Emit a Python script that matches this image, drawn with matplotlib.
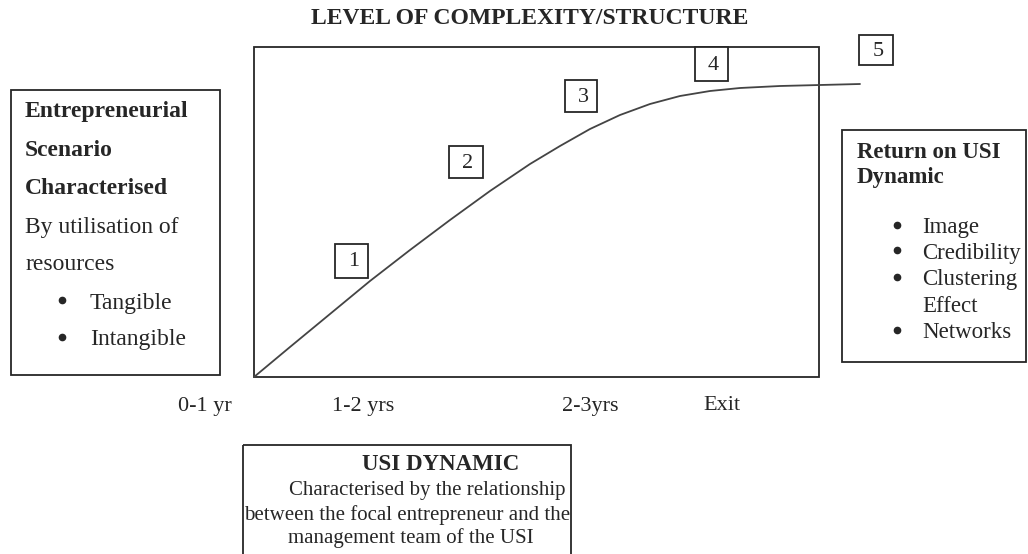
import matplotlib
matplotlib.use('Agg')
import matplotlib.pyplot as plt
from matplotlib.patches import Rectangle

plt.rcParams['font.family'] = ['Liberation Serif', 'DejaVu Serif']

# curve of complexity over time (image pixel units)
curve_x = [254, 290, 330, 370, 410, 450, 490, 530, 560, 590, 620, 650, 680, 710, 740, 780, 820, 860]
curve_y = [377, 347, 314, 281, 250, 220, 191, 164, 146, 129, 115, 104, 96, 91, 88, 86, 85, 84]

stage_labels = ['1', '2', '3', '4', '5']
stage_boxes = [(335, 244, 33, 34), (449, 146, 34, 32), (565, 80, 32, 32),
               (695, 47, 33, 34), (859, 35, 34, 30)]

time_labels = ['0-1 yr', '1-2 yrs', '2-3yrs', 'Exit']
time_pos = [205, 363, 590, 722]

title = 'LEVEL OF COMPLEXITY/STRUCTURE'

left_head = ['Entrepreneurial', 'Scenario', 'Characterised']
left_body = ['By utilisation of', 'resources']
left_bullets = ['Tangible', 'Intangible']

right_head = ['Return on USI', 'Dynamic']
right_bullets = ['Image', 'Credibility', 'Clustering', 'Networks']
right_extra = 'Effect'

bottom_head = 'USI DYNAMIC'
bottom_body = ['Characterised by the relationship',
               'between the focal entrepreneur and the',
               'management team of the USI']

ink = '#262626'
W, H = 1028, 554
fig = plt.figure(figsize=(W / 100, H / 100), dpi=100)
ax = fig.add_axes([0, 0, 1, 1])
ax.set_xlim(0, W)
ax.set_ylim(H, 0)
ax.axis('off')


def box(x, y, w, h, lw=1.3, fc='none'):
    ax.add_patch(Rectangle((x, y), w, h, fc=fc, ec=ink, lw=lw))


# main frame and curve
box(254, 47, 565, 330)
ax.plot(curve_x, curve_y, color='#444444', lw=1.3, solid_capstyle='round', solid_joinstyle='round')

ax.text(530, 18, title, ha='center', va='center', fontsize=17, fontweight='bold', color=ink)

for lab, (x, y, w, h) in zip(stage_labels, stage_boxes):
    box(x, y, w, h, fc='white')
    ax.text(x + w / 2 + 2, y + h / 2 + 1, lab, ha='center', va='center', fontsize=16, color=ink)

for lab, x in zip(time_labels, time_pos):
    ax.text(x, 406, lab, ha='center', va='center', fontsize=16, color=ink)

# left box
box(11, 90, 209, 285)
for t, y in zip(left_head + left_body, [112, 151, 189, 227, 265]):
    ax.text(25, y, t, ha='left', va='center', fontsize=17, color=ink,
            fontweight='bold' if t in left_head else 'normal')
for t, y in zip(left_bullets, [303, 340]):
    ax.plot(62, y - 3, 'o', ms=4.5, color=ink)
    ax.text(90, y, t, ha='left', va='center', fontsize=17, color=ink)

# right box
box(842, 130, 184, 232)
for t, y in zip(right_head, [152, 177]):
    ax.text(857, y, t, ha='left', va='center', fontsize=16.5, fontweight='bold', color=ink)
for t, y in zip(right_bullets, [228, 253, 280, 333]):
    ax.plot(897, y - 3, 'o', ms=4.5, color=ink)
    ax.text(922, y, t, ha='left', va='center', fontsize=16.5, color=ink)
ax.text(922, 307, right_extra, ha='left', va='center', fontsize=16.5, color=ink)

# bottom box
box(243, 445, 328, 130)
ax.text(441, 465, bottom_head, ha='center', va='center', fontsize=16.5, fontweight='bold', color=ink)
for t, (x, y) in zip(bottom_body, [(427, 490), (407, 515), (411, 538)]):
    ax.text(x, y, t, ha='center', va='center', fontsize=15, color=ink)

fig.savefig('out.png', dpi=100)
